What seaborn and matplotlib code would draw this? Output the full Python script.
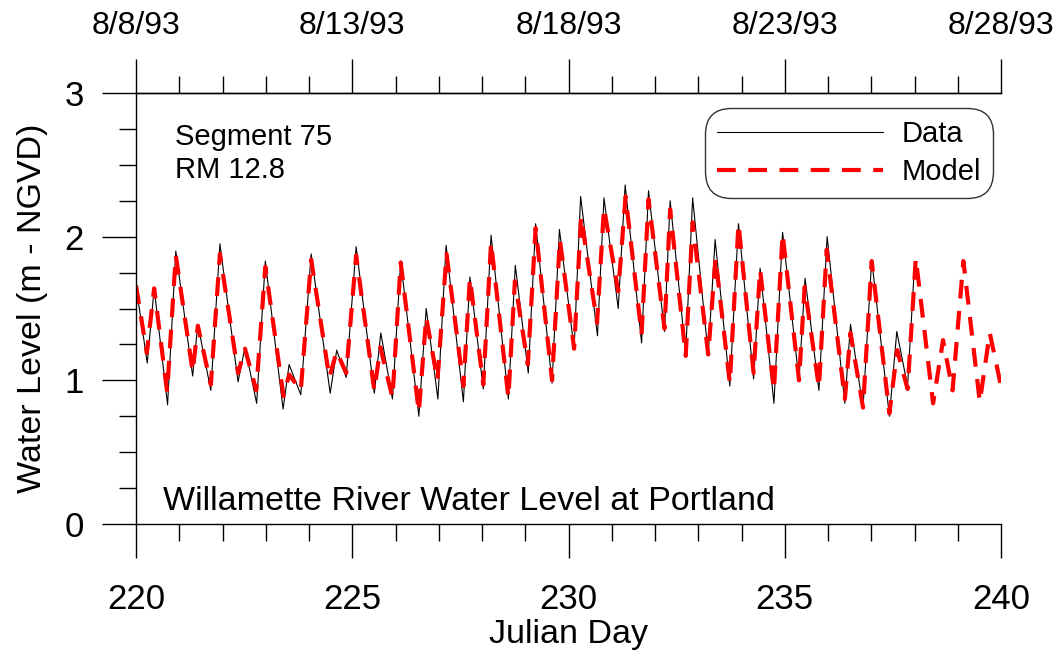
import matplotlib
matplotlib.use("Agg")
import matplotlib.pyplot as plt
import seaborn as sns
import pandas as pd
from matplotlib.lines import Line2D
from matplotlib.ticker import MultipleLocator

# ---- data (tidal extrema) ----
data_day = [220.00, 220.26, 220.42, 220.73, 220.92, 221.31, 221.43, 221.73, 221.94,
            222.36, 222.52, 222.79, 222.99, 223.40, 223.54, 223.81, 224.05, 224.49,
            224.64, 224.86, 225.09, 225.51, 225.66, 225.93, 226.12, 226.54, 226.71,
            226.98, 227.17, 227.57, 227.72, 228.03, 228.21, 228.61, 228.77, 229.07,
            229.24, 229.62, 229.79, 230.13, 230.28, 230.67, 230.82, 231.15, 231.31,
            231.69, 231.85, 232.22, 232.35, 232.71, 232.87, 233.23, 233.39, 233.73,
            233.93, 234.28, 234.43, 234.75, 234.95, 235.33, 235.47, 235.79, 235.98,
            236.39, 236.52, 236.81, 237.01, 237.42, 237.59, 237.84, 238.00]
data_level = [1.66, 1.12, 1.64, 0.83, 1.90, 1.03, 1.39, 0.93, 1.95,
              0.99, 1.23, 0.84, 1.83, 0.80, 1.11, 0.90, 1.88, 0.91,
              1.21, 1.02, 1.93, 0.91, 1.33, 0.87, 1.83, 0.75, 1.50,
              0.87, 1.94, 0.85, 1.72, 0.94, 2.01, 0.87, 1.80, 1.05,
              2.09, 0.98, 2.05, 1.22, 2.28, 1.31, 2.27, 1.50, 2.36,
              1.26, 2.32, 1.34, 2.25, 1.19, 2.27, 1.18, 1.98, 0.96,
              2.09, 1.01, 1.78, 0.84, 2.03, 1.00, 1.71, 0.93, 2.00,
              0.84, 1.39, 0.81, 1.84, 0.75, 1.34, 0.96, 1.80]

model_day = [220.00, 220.25, 220.42, 220.72, 220.92, 221.31, 221.43, 221.73, 221.94,
             222.36, 222.52, 222.78, 222.99, 223.41, 223.54, 223.81, 224.05, 224.47,
             224.64, 224.86, 225.09, 225.51, 225.65, 225.93, 226.12, 226.54, 226.71,
             226.97, 227.18, 227.57, 227.72, 228.03, 228.21, 228.61, 228.76, 229.06,
             229.24, 229.62, 229.80, 230.13, 230.29, 230.66, 230.82, 231.15, 231.32,
             231.69, 231.85, 232.22, 232.35, 232.71, 232.87, 233.23, 233.40, 233.73,
             233.93, 234.28, 234.43, 234.75, 234.95, 235.33, 235.46, 235.79, 235.97,
             236.39, 236.52, 236.81, 237.01, 237.42, 237.60, 237.84, 238.03, 238.43,
             238.66, 238.88, 239.13, 239.51, 239.74, 240.00]
model_level = [1.66, 1.19, 1.64, 0.92, 1.87, 1.06, 1.38, 0.97, 1.88,
               1.05, 1.22, 0.93, 1.79, 0.89, 1.04, 0.93, 1.84, 1.02,
               1.20, 1.05, 1.87, 0.93, 1.23, 0.88, 1.82, 0.78, 1.44,
               1.00, 1.88, 0.96, 1.71, 0.97, 1.96, 0.88, 1.69, 1.11,
               2.06, 1.00, 1.98, 1.22, 2.14, 1.40, 2.20, 1.62, 2.28,
               1.32, 2.26, 1.36, 2.19, 1.17, 2.10, 1.18, 1.85, 0.98,
               2.09, 1.05, 1.77, 0.93, 2.02, 1.00, 1.65, 0.95, 1.91,
               0.87, 1.33, 0.81, 1.83, 0.77, 1.21, 0.94, 1.85, 0.84,
               1.28, 0.93, 1.83, 0.85, 1.33, 0.96]

bottom_ticks = [220, 225, 230, 235, 240]
top_labels = ["8/8/93", "8/13/93", "8/18/93", "8/23/93", "8/28/93"]
y_ticks = [0, 1, 2, 3]

# ---- style ----
sns.set_style("ticks")
plt.rcParams["font.family"] = ["Liberation Sans", "DejaVu Sans"]
plt.rcParams["text.color"] = "black"
plt.rcParams["axes.labelcolor"] = "black"
plt.rcParams["xtick.color"] = "black"
plt.rcParams["ytick.color"] = "black"
plt.rcParams["axes.edgecolor"] = "black"

fig = plt.figure(figsize=(10.62, 6.50), dpi=100)
ax = fig.add_axes([136 / 1062, 126 / 650, 865 / 1062, 431 / 650])

df_data = pd.DataFrame({"day": data_day, "level": data_level})
df_model = pd.DataFrame({"day": model_day, "level": model_level})

sns.lineplot(data=df_data, x="day", y="level", ax=ax, color="black",
             linewidth=0.8, sort=False, estimator=None)
sns.lineplot(data=df_model, x="day", y="level", ax=ax, color="#ff0000",
             linewidth=3.0, sort=False, estimator=None)
ax.lines[1].set_linestyle((0, (4.5, 3.0)))

ax.set_xlim(220, 240)
ax.set_ylim(0, 3)

# spines
for s in ["left", "bottom", "top"]:
    ax.spines[s].set_linewidth(1.0)
    ax.spines[s].set_color("black")
ax.spines["right"].set_visible(False)

ax.set_xticks(bottom_ticks)
ax.set_xticklabels([str(t) for t in bottom_ticks])
ax.xaxis.set_minor_locator(MultipleLocator(1))
ax.set_yticks(y_ticks)
ax.set_yticklabels([str(t) for t in y_ticks])
ax.yaxis.set_minor_locator(MultipleLocator(0.25))

ax.tick_params(axis="x", which="major", direction="out", length=24.5, width=1.0,
               labelsize=25, pad=18, top=False)
ax.tick_params(axis="x", which="minor", direction="out", length=12.2, width=1.0,
               top=False)
ax.tick_params(axis="y", which="major", direction="out", length=24.5, width=1.0,
               labelsize=25, pad=13, right=False)
ax.tick_params(axis="y", which="minor", direction="out", length=12.2, width=1.0,
               right=False)

# top date axis
sec = ax.secondary_xaxis("top")
sec.set_xticks(bottom_ticks, labels=top_labels)
sec.xaxis.set_minor_locator(MultipleLocator(1))
sec.tick_params(axis="x", which="major", direction="out", length=24.5, width=1.0,
                labelsize=23, pad=13)
sec.tick_params(axis="x", which="minor", direction="out", length=12.2, width=1.0)
sec.spines["top"].set_linewidth(1.0)

ax.set_xlabel("Julian Day", fontsize=24.5, labelpad=2)
ax.set_ylabel("Water Level (m - NGVD)", fontsize=24.5, labelpad=12)

ax.text(220.9, 2.79, "Segment 75", fontsize=21, va="top", ha="left")
ax.text(220.9, 2.56, "RM 12.8", fontsize=21, va="top", ha="left")
ax.text(220.62, 0.1, "Willamette River Water Level at Portland", fontsize=24.5,
        va="baseline", ha="left")

handles = [Line2D([], [], color="black", linewidth=0.8),
           Line2D([], [], color="#ff0000", linewidth=3.0, linestyle=(0, (4.5, 3.0)))]
leg = ax.legend(handles, ["Data", "Model"], loc="upper right",
                bbox_to_anchor=(0.9908, 0.965), borderaxespad=0, fontsize=21,
                handlelength=5.7, handletextpad=0.65, labelspacing=0.35,
                borderpad=0.4, frameon=True, fancybox=True, framealpha=1)
frame = leg.get_frame()
frame.set_edgecolor("#333333")
frame.set_linewidth(1.0)
frame.set_boxstyle("round,pad=0,rounding_size=0.9")

fig.savefig("out.png", dpi=100)
